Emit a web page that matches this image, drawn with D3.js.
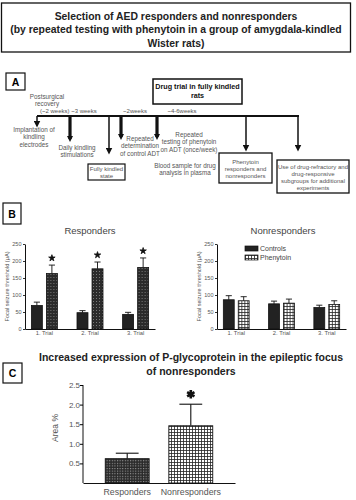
<!DOCTYPE html>
<html><head><meta charset="utf-8">
<script src="https://cdn.jsdelivr.net/npm/d3@7"></script>
<style>body{margin:0;background:#fff}svg{display:block}text{font-family:"Liberation Sans",Arial,sans-serif}</style>
</head><body><svg id="c" width="356" height="500"></svg>
<script>
// ---------- data ----------
const trials = ["1. Trial","2. Trial","3. Trial"];
const groupsB = ["Controls","Phenytoin"];
const respControls = [69,48,43];
const respControlsErr = [10,6,6];
const respPhenytoin = [163,177,181];
const respPhenytoinErr = [25,20,28];
const respStars = [true,true,true];
const nonControls = [86,74,63];
const nonControlsErr = [12,8,7];
const nonPhenytoin = [83,76,72];
const nonPhenytoinErr = [12,12,11];
const yTicksB = [0,50,100,150,200,250];
const groupsC = ["Responders","Nonresponders"];
const areaValues = [0.62,1.46];
const areaErr = [0.14,0.55];
const areaStars = [false,true];
const yTicksC = [0.5,1.0,1.5,2.0,2.5];

const svg = d3.select("#c");
const defs = svg.append("defs");
const gray = "#555";

// patterns
function pat(id,size,build){const p=defs.append("pattern").attr("id",id).attr("patternUnits","userSpaceOnUse").attr("width",size).attr("height",size);build(p);}
pat("stip",3,p=>{p.append("rect").attr("width",3).attr("height",3).attr("fill","#2b2b2b");p.append("rect").attr("x",1).attr("y",1).attr("width",1).attr("height",1).attr("fill","#7a7a7a");});
pat("grid",3,p=>{p.append("rect").attr("width",3).attr("height",3).attr("fill","#fff");p.append("path").attr("d","M0,0.4H3M0.4,0V3").attr("stroke","#222").attr("stroke-width",0.9);});
pat("check",2.6,p=>{p.append("rect").attr("width",2.6).attr("height",2.6).attr("fill","#2a2a2a");p.append("rect").attr("x",0).attr("y",0).attr("width",1.1).attr("height",1.1).attr("fill","#9a9a9a");});
// arrow marker
defs.append("marker").attr("id","ah").attr("viewBox","0 0 10 10").attr("refX",5).attr("refY",5)
  .attr("markerWidth",7).attr("markerHeight",7).attr("markerUnits","userSpaceOnUse").attr("orient","auto")
  .append("path").attr("d","M0,0L10,5L0,10Z").attr("fill","#111");
defs.append("marker").attr("id","ahT").attr("viewBox","0 0 10 10").attr("refX",5).attr("refY",5)
  .attr("markerWidth",6).attr("markerHeight",8).attr("markerUnits","userSpaceOnUse").attr("orient","auto")
  .append("path").attr("d","M0,0L10,5L0,10Z").attr("fill","#111");

function lines(sel,x,y,arr,lh,opts){
  const t=sel.append("text").attr("x",x).attr("y",y).attr("text-anchor",opts.anchor||"middle")
    .attr("font-size",opts.size).attr("fill",opts.fill||gray).attr("font-weight",opts.weight||"normal");
  arr.forEach((s,i)=>t.append("tspan").attr("x",x).attr("dy",i?lh:0).text(s));
  return t;
}
function box(x,y,w,h,sw){svg.append("rect").attr("x",x).attr("y",y).attr("width",w).attr("height",h).attr("fill","#fff").attr("stroke","#111").attr("stroke-width",sw||1.3);}
function label(x,y,w,h,l){box(x,y,w,h,1.2);svg.append("text").attr("x",x+w/2).attr("y",y+h/2+4).attr("text-anchor","middle").attr("font-weight","bold").attr("font-size",10.5).text(l);}

// ---------- title ----------
box(1.5,3,349,49,1.3);
lines(svg,176,19.5,["Selection of AED responders and nonresponders","(by repeated testing with phenytoin in a group of amygdala-kindled","Wister rats)"],13.5,{size:10.4,weight:"bold",fill:"#222"});

// ---------- panel A ----------
label(6,73,19,17,"A");
const lineY=116;
svg.append("line").attr("x1",37).attr("x2",299).attr("y1",lineY).attr("y2",lineY).attr("stroke","#111").attr("stroke-width",2);
// drug trial box
box(153,79,89,25,1.5);
lines(svg,197.5,89,["Drug trial in fully kindled","rats"],9,{size:7.2,weight:"bold",fill:"#111"});
// arrows: [x, yEnd, thick]
const arrows=[[37,127,false],[70,142,true],[109,154,false],[121,140,true],[157,140,true],[246,151,false],[298,151,false]];
arrows.forEach(a=>{
  svg.append("line").attr("x1",a[0]).attr("x2",a[0]).attr("y1",lineY).attr("y2",a[1]-3)
   .attr("stroke","#111").attr("stroke-width",a[2]?3.2:1.5).attr("marker-end",a[2]?"url(#ahT)":"url(#ah)");
});
const sm={size:6.3};
lines(svg,47,99,["Postsurgical","recovery"],6.5,sm);
svg.append("text").attr("x",40).attr("y",113).attr("font-size",6).attr("fill",gray).text("(~2 weeks) ~3 weeks");
svg.append("text").attr("x",135).attr("y",113).attr("font-size",6).attr("fill",gray).attr("text-anchor","middle").text("~2weeks");
svg.append("text").attr("x",182).attr("y",113).attr("font-size",6).attr("fill",gray).attr("text-anchor","middle").text("~4-6weeks");
lines(svg,34,132,["Implantation of","kindling","electrodes"],7.3,sm);
lines(svg,77,150,["Daily kindling","stimulations"],7.3,sm);
box(88,164,37,16,1.2);
lines(svg,106.5,170.5,["Fully kindled","state"],7,{size:6});
lines(svg,140,141,["Repeated","determination","of control ADT"],7.3,sm);
lines(svg,189,137,["Repeated","testing of phenytoin","on ADT (once/week)"],7.3,sm);
lines(svg,185,168,["Blood sample for drug","analysis in plasma"],7.3,sm);
box(219,153,53,30,1.3);
lines(svg,245.5,164,["Phenytoin","responders and","nonresponders"],7,{size:6});
box(277,160,72,33,1.3);
lines(svg,313,169,["Use of drug-refractory and","drug-responsive","subgroups for additional","experiments"],7,{size:6});

// ---------- panel B ----------
label(3,203,18,21,"B");
function barChart(ax,axEnd,title,titleX,ctl,ctlE,phe,pheE,stars,phePat,legend){
  const y=d3.scaleLinear().domain([0,250]).range([329,244]);
  const x0=d3.scaleBand().domain(trials).range([ax,axEnd]).paddingInner(0.43).paddingOuter(0.14);
  const x1=d3.scaleBand().domain(groupsB).range([0,x0.bandwidth()]).paddingInner(0.27);
  const g=svg.append("g");
  g.append("text").attr("x",titleX).attr("y",234).attr("text-anchor","middle").attr("font-size",9.5).attr("fill","#444").text(title);
  const rows=trials.map((t,i)=>({t,vals:[{k:"Controls",v:ctl[i],e:ctlE[i],s:false},{k:"Phenytoin",v:phe[i],e:pheE[i],s:stars?stars[i]:false}]}));
  const gg=g.selectAll("g.grp").data(rows).join("g").attr("transform",d=>`translate(${x0(d.t)},0)`);
  const b=gg.selectAll("g.b").data(d=>d.vals).join("g");
  b.append("line").attr("x1",d=>x1(d.k)+x1.bandwidth()/2).attr("x2",d=>x1(d.k)+x1.bandwidth()/2)
    .attr("y1",d=>y(d.v)).attr("y2",d=>y(d.v+d.e)).attr("stroke","#111").attr("stroke-width",0.9);
  b.append("line").attr("x1",d=>x1(d.k)+x1.bandwidth()*0.22).attr("x2",d=>x1(d.k)+x1.bandwidth()*0.78)
    .attr("y1",d=>y(d.v+d.e)).attr("y2",d=>y(d.v+d.e)).attr("stroke","#111").attr("stroke-width",0.9);
  b.append("rect").attr("x",d=>x1(d.k)).attr("width",x1.bandwidth()).attr("y",d=>y(d.v)).attr("height",d=>y(0)-y(d.v))
    .attr("fill",d=>d.k==="Controls"?"#222":phePat).attr("stroke","#111").attr("stroke-width",0.8);
  b.filter(d=>d.s).append("path").attr("d",d3.symbol(d3.symbolStar,13))
    .attr("transform",d=>`translate(${x1(d.k)+x1.bandwidth()/2},${y(d.v+d.e)-7})`).attr("fill","#111").attr("stroke","#111").attr("stroke-width",0.8);
  const ya=g.append("g").attr("transform",`translate(${ax},0)`).call(d3.axisLeft(y).tickValues(yTicksB).tickSize(2).tickSizeOuter(0));
  ya.selectAll("text").attr("font-size",5.5).attr("fill",gray).attr("x",-3.5);
  ya.select(".domain").attr("stroke","#111");
  ya.selectAll(".tick line").attr("stroke","#333");
  const xa=g.append("g").attr("transform","translate(0,329)").call(d3.axisBottom(x0).tickSize(0).tickSizeOuter(0));
  xa.select(".domain").attr("stroke","#111").attr("stroke-width",1.2);
  xa.selectAll("text").attr("font-size",5.8).attr("fill",gray).attr("dy","0.55em");
  g.append("text").attr("transform",`translate(${ax-16},286.5) rotate(-90)`).attr("text-anchor","middle")
    .attr("font-size",5.6).attr("fill",gray).text("Focal seizure threshold (µA)");
  if(legend){
    const lg=g.append("g").selectAll("g").data(groupsB).join("g").attr("transform",(d,i)=>`translate(${ax+28},${246+i*9})`);
    lg.append("rect").attr("width",13).attr("height",5).attr("fill",d=>d==="Controls"?"#222":phePat).attr("stroke","#111").attr("stroke-width",0.7);
    lg.append("text").attr("x",15).attr("y",5).attr("font-size",7).attr("fill","#444").text(d=>d);
  }
}
barChart(25,155,"Responders",90,respControls,respControlsErr,respPhenytoin,respPhenytoinErr,respStars,"url(#stip)",false);
barChart(217,346,"Nonresponders",283,nonControls,nonControlsErr,nonPhenytoin,nonPhenytoinErr,null,"url(#grid)",true);

// ---------- panel C ----------
label(3,363,19,20,"C");
lines(svg,191,361,["Increased expression of P-glycoprotein in the epileptic focus","of nonresponders"],13.5,{size:10.5,weight:"bold",fill:"#222"});
{
  const y=d3.scaleLinear().domain([0,2.5]).range([483,385]);
  const x=d3.scaleBand().domain(groupsC).range([83,235]).paddingInner(0.31).paddingOuter(0.35);
  const data=groupsC.map((k,i)=>({k,v:areaValues[i],e:areaErr[i],s:areaStars[i]}));
  const g=svg.append("g");
  const b=g.selectAll("g.b").data(data).join("g");
  b.append("line").attr("x1",d=>x(d.k)+x.bandwidth()/2).attr("x2",d=>x(d.k)+x.bandwidth()/2)
    .attr("y1",d=>y(d.v)).attr("y2",d=>y(d.v+d.e)).attr("stroke","#111").attr("stroke-width",1.1);
  b.append("line").attr("x1",d=>x(d.k)+x.bandwidth()*0.24).attr("x2",d=>x(d.k)+x.bandwidth()*0.76)
    .attr("y1",d=>y(d.v+d.e)).attr("y2",d=>y(d.v+d.e)).attr("stroke","#111").attr("stroke-width",1.1);
  b.append("rect").attr("x",d=>x(d.k)).attr("width",x.bandwidth()).attr("y",d=>y(d.v)).attr("height",d=>y(0)-y(d.v))
    .attr("fill",(d,i)=>i===0?"url(#check)":"url(#grid)").attr("stroke","#111").attr("stroke-width",0.9);
  b.filter(d=>d.s).append("path").attr("d",d3.symbol(d3.symbolAsterisk,50))
    .attr("transform",d=>`translate(${x(d.k)+x.bandwidth()/2},${y(d.v+d.e)-10})`).attr("stroke","#111").attr("stroke-width",2.6).attr("fill","none");
  const ya=g.append("g").attr("transform","translate(83,0)").call(d3.axisLeft(y).tickValues(yTicksC).tickFormat(d3.format(".1f")).tickSize(3).tickSizeOuter(0));
  ya.selectAll("text").attr("font-size",8).attr("fill",gray).attr("x",-3);
  ya.select(".domain").attr("stroke","#111").attr("d","M0,483V385");
  const xa=g.append("g").attr("transform","translate(0,483)").call(d3.axisBottom(x).tickSize(0).tickSizeOuter(0));
  xa.select(".domain").attr("stroke","#111").attr("stroke-width",1.1);
  xa.selectAll("text").attr("font-size",8.8).attr("fill",gray).attr("dy","1.05em");
  g.append("text").attr("transform","translate(58,428) rotate(-90)").attr("text-anchor","middle").attr("font-size",8.5).attr("fill",gray).text("Area %");
}
</script></body></html>
